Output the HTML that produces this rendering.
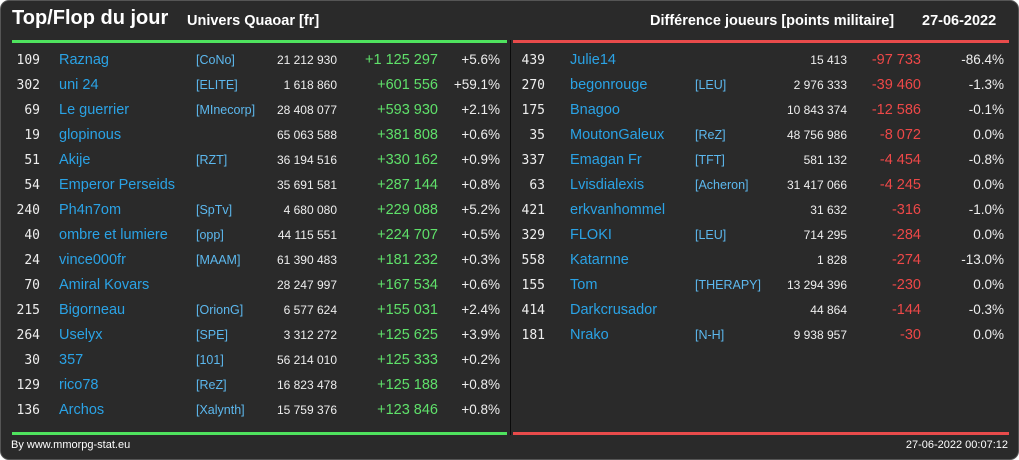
<!DOCTYPE html>
<html><head><meta charset="utf-8">
<style>
body{margin:0;width:1019px;height:460px;background:#fff;overflow:hidden;font-family:"Liberation Sans",sans-serif}
#card{position:absolute;left:0;top:0;width:1017px;height:458px;background:#2a2a2a;border:1px solid #555;border-radius:9px;overflow:hidden}
.t{position:absolute;white-space:nowrap;color:#fff}
.r{text-align:right}
.rank{font-family:"DejaVu Sans Mono","Liberation Mono",monospace;font-size:13px;color:#eee}
.name{font-size:14.5px;color:#2aa3e6}
.tag{font-size:12.5px;color:#5cb8ee}
.pts{font-size:12px;color:#eee}
.dp{font-size:14.5px;color:#5fe06a}
.dn{font-size:14.5px;color:#ee4848}
.pct{font-size:13.5px;color:#eee}
</style></head><body>
<div id="card">
<div class="t" style="left:11px;top:6px;font-size:20px;font-weight:bold">Top/Flop du jour</div>
<div class="t" style="left:186px;top:12px;font-size:14.5px;font-weight:bold">Univers Quaoar [fr]</div>
<div class="t" style="left:649px;top:12px;font-size:14.5px;font-weight:bold">Différence joueurs [points militaire]</div>
<div class="t" style="left:921px;top:12px;font-size:14.5px;font-weight:bold">27-06-2022</div>
<div style="position:absolute;left:11px;top:39px;width:495px;height:3px;background:#4fe35e"></div>
<div style="position:absolute;left:512px;top:39px;width:496px;height:3px;background:#e84b4b"></div>
<div style="position:absolute;left:509px;top:39px;width:1px;height:395px;background:#0a0a0a"></div>
<div style="position:absolute;left:11px;top:431px;width:495px;height:3px;background:#4fe35e"></div>
<div style="position:absolute;left:512px;top:431px;width:496px;height:3px;background:#e84b4b"></div>
<div class="t" style="left:10px;top:438px;font-size:11px">By www.mmorpg-stat.eu</div>
<div class="t" style="right:10px;top:438px;font-size:11px">27-06-2022 00:07:12</div>
<div id="rows"></div>
</div>
<script>
const topRanks=[109,302,69,19,51,54,240,40,24,70,215,264,30,129,136];
const topNames=["Raznag","uni 24","Le guerrier","glopinous","Akije","Emperor Perseids","Ph4n7om","ombre et lumiere","vince000fr","Amiral Kovars","Bigorneau","Uselyx","357","rico78","Archos"];
const topTags=["[CoNo]","[ELITE]","[MInecorp]","","[RZT]","","[SpTv]","[opp]","[MAAM]","","[OrionG]","[SPE]","[101]","[ReZ]","[Xalynth]"];
const topPoints=["21 212 930","1 618 860","28 408 077","65 063 588","36 194 516","35 691 581","4 680 080","44 115 551","61 390 483","28 247 997","6 577 624","3 312 272","56 214 010","16 823 478","15 759 376"];
const topDiffs=["+1 125 297","+601 556","+593 930","+381 808","+330 162","+287 144","+229 088","+224 707","+181 232","+167 534","+155 031","+125 625","+125 333","+125 188","+123 846"];
const topPcts=["+5.6%","+59.1%","+2.1%","+0.6%","+0.9%","+0.8%","+5.2%","+0.5%","+0.3%","+0.6%","+2.4%","+3.9%","+0.2%","+0.8%","+0.8%"];
const flopRanks=[439,270,175,35,337,63,421,329,558,155,414,181];
const flopNames=["Julie14","begonrouge","Bnagoo","MoutonGaleux","Emagan Fr","Lvisdialexis","erkvanhommel","FLOKI","Katarnne","Tom","Darkcrusador","Nrako"];
const flopTags=["","[LEU]","","[ReZ]","[TFT]","[Acheron]","","[LEU]","","[THERAPY]","","[N-H]"];
const flopPoints=["15 413","2 976 333","10 843 374","48 756 986","581 132","31 417 066","31 632","714 295","1 828","13 294 396","44 864","9 938 957"];
const flopDiffs=["-97 733","-39 460","-12 586","-8 072","-4 454","-4 245","-316","-284","-274","-230","-144","-30"];
const flopPcts=["-86.4%","-1.3%","-0.1%","0.0%","-0.8%","0.0%","-1.0%","0.0%","-13.0%","0.0%","-0.3%","0.0%"];
const rows=document.getElementById('rows');
function cell(cls,text,x,y,right,name){
  const d=document.createElement('div');
  d.className='t '+cls+(right?' r':'');
  d.textContent=text;
  d.style.top=y+'px';
  if(right){d.style.left=(x-150)+'px';d.style.width='150px';}else d.style.left=x+'px';
  
  
  rows.appendChild(d);
}
function table(ranks,names,tags,pts,diffs,pcts,c,neg,prefix){
  for(let i=0;i<ranks.length;i++){
    const cy=60+i*25;
    cell('rank',ranks[i],c[0],cy-8,true,prefix+'-rank');
    cell('name',names[i],c[1],cy-9,false,prefix+'-player-name');
    cell('tag',tags[i],c[2],cy-8,false,prefix+'-alliance-tag');
    cell('pts',pts[i],c[3],cy-8,true,prefix+'-points');
    cell(neg?'dn':'dp',diffs[i],c[4],cy-9,true,prefix+'-difference');
    cell('pct',pcts[i],c[5],cy-9,true,prefix+'-percent');
  }
}
table(topRanks,topNames,topTags,topPoints,topDiffs,topPcts,[39,58,195,336,437,499],false,'top');
table(flopRanks,flopNames,flopTags,flopPoints,flopDiffs,flopPcts,[544,569,694,846,920,1003],true,'flop');
</script>
</body></html>
